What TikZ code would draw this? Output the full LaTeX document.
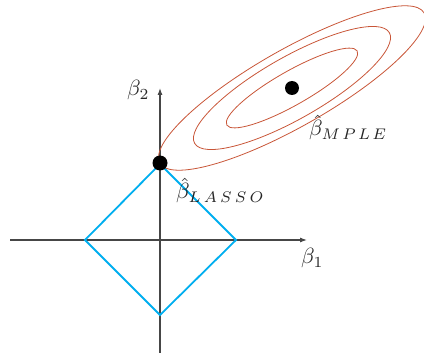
\documentclass[tikz,border=0pt]{standalone}
\usetikzlibrary{arrows.meta}
\definecolor{axisgray}{RGB}{70,70,70}
\definecolor{diamondcyan}{RGB}{0,174,239}
\definecolor{ellred}{RGB}{200,85,55}
\newcommand{\biglab}[1]{\scalebox{2.2}{#1}}
\begin{document}
\begin{tikzpicture}[x=1pt,y=-1pt,
  axis/.style={draw=axisgray,line width=1.1pt,-{Latex[length=7pt,width=5pt]}},
  diam/.style={draw=diamondcyan,line width=1.8pt,line join=miter},
  contour/.style={draw=ellred,line width=0.8pt},
  dot/.style={circle,fill=black,inner sep=0pt,minimum size=#1},
  labtext/.style={text=black!85,inner sep=0pt,anchor=base west}]
\useasboundingbox (0,0) rectangle (424,353);
% axes
\coordinate (xs) at (10,240);
\coordinate (xe) at (307,240);
\coordinate (ys) at (160,353);
\coordinate (ye) at (160,88);
\draw[axis] (xs) -- (xe);
\draw[axis] (ys) -- (ye);
% diamond
\coordinate (dl) at (85,240);
\coordinate (dr) at (236,240);
\coordinate (dt) at (160,164);
\coordinate (db) at (160,315);
\draw[diam] (dl) -- (dt) -- (dr) -- (db) -- cycle;
% ellipses
\coordinate (c) at (292,88);
\begin{scope}[shift={(c)},rotate=29.6]
\draw[contour] (0,0) ellipse [x radius=152pt, y radius=38.5pt];
\draw[contour] (0,0) ellipse [x radius=112pt, y radius=31pt];
\draw[contour] (0,0) ellipse [x radius=75pt, y radius=17pt];
\end{scope}
% dots
\node[dot=15pt] (lasso) at (160,163) {};
\node[dot=14pt] (mple) at (c) {};
% labels
\node[labtext] (b1) at (301,264) {\biglab{$\beta_1$}};
\node[labtext] (b2) at (127,96) {\biglab{$\beta_2$}};
\node[labtext] (lmple) at (309,136) {\biglab{$\hat\beta_{M\kern1pt P\kern1pt L\kern1pt E}$}};
\node[labtext] (llasso) at (176,199) {\biglab{$\hat\beta_{L\kern1.4pt A\kern1.4pt S\kern1.4pt S\kern1.4pt O}$}};
\end{tikzpicture}
\end{document}
